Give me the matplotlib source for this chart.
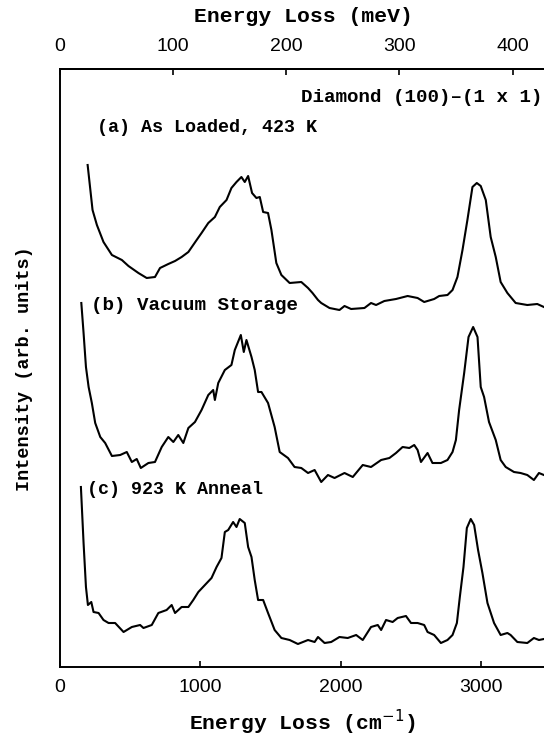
import matplotlib
matplotlib.use("Agg")
import matplotlib.pyplot as plt
import numpy as np

# ---- data (energy loss in cm^-1, intensity in arbitrary units incl. offsets) ----
a_x = [197, 232, 263, 310, 370, 441, 488, 559, 618, 677, 713, 772, 820, 867, 915, 974, 1009, 1057,
       1104, 1139, 1187, 1222, 1258, 1293, 1317, 1341, 1369, 1400, 1424, 1448, 1483, 1507, 1542, 1578,
       1637, 1720, 1768, 1800, 1839, 1862, 1921, 1992, 2028, 2075, 2170, 2217, 2253, 2312, 2395, 2478,
       2549, 2596, 2667, 2703, 2762, 2798, 2833, 2869, 2904, 2940, 2971, 2999, 3035, 3070, 3106, 3141,
       3189, 3248, 3331, 3402, 3449]
a_y = [502, 457, 442, 425, 412, 407, 401, 394, 389, 390, 399, 403, 406, 410, 415, 427, 434, 444,
       450, 460, 467, 479, 485, 490, 485, 491, 474, 469, 470, 455, 454, 437, 404, 392,
       384, 385, 379, 374, 367, 364, 359, 357, 361, 358, 359, 364, 362, 366, 368, 371,
       369, 365, 368, 371, 372, 377, 390, 417, 447, 480, 484, 481, 467, 430, 410, 385,
       374, 364, 362, 363, 360]

b_x = [152, 168, 185, 204, 227, 251, 287, 322, 370, 429, 476, 512, 547, 576, 630, 677, 725, 772,
       808, 843, 879, 915, 962, 1009, 1057, 1092, 1104, 1128, 1175, 1222, 1246, 1289, 1310, 1329,
       1365, 1388, 1412, 1436, 1483, 1530, 1566, 1625, 1672, 1720, 1768, 1815, 1862, 1910, 1957,
       2028, 2087, 2158, 2217, 2289, 2348, 2395, 2442, 2490, 2525, 2549, 2573, 2620, 2655, 2715,
       2762, 2798, 2822, 2845, 2881, 2912, 2945, 2976, 2999, 3023, 3058, 3106, 3141, 3177, 3236,
       3283, 3331, 3378, 3414, 3449]
b_y = [364, 334, 300, 280, 264, 244, 230, 224, 211, 212, 215, 205, 208, 199, 204, 205, 220, 230,
       225, 232, 224, 239, 245, 257, 272, 277, 267, 284, 297, 302, 317, 332, 315, 327,
       310, 297, 275, 275, 264, 240, 215, 209, 200, 199, 194, 197, 185, 192, 189,
       194, 190, 202, 200, 207, 209, 214, 220, 219, 222, 217, 205, 214, 204, 204,
       207, 215, 227, 257, 294, 330, 340, 330, 280, 270, 245, 227, 207, 200, 195,
       194, 192, 187, 194, 192]

c_x = [149, 168, 185, 199, 223, 239, 275, 310, 346, 393, 453, 512, 571, 595, 654, 701, 760, 796,
       820, 867, 915, 950, 986, 1033, 1080, 1116, 1151, 1175, 1199, 1234, 1258, 1281, 1317, 1341,
       1365, 1388, 1412, 1448, 1483, 1530, 1578, 1637, 1696, 1768, 1815, 1839, 1886, 1933, 1992,
       2051, 2111, 2158, 2217, 2265, 2289, 2324, 2371, 2407, 2466, 2502, 2549, 2596, 2620, 2667,
       2715, 2762, 2798, 2829, 2850, 2876, 2900, 2928, 2952, 2980, 3011, 3047, 3094, 3141, 3189,
       3212, 3260, 3331, 3378, 3414, 3449]
c_y = [180, 124, 80, 62, 65, 55, 54, 47, 44, 44, 35, 40, 42, 39, 42, 54, 57, 62,
       54, 60, 60, 67, 75, 82, 89, 100, 109, 135, 137, 145, 140, 148, 144, 120,
       110, 87, 67, 67, 54, 37, 29, 27, 23, 27, 25, 30, 24, 25, 30,
       29, 32, 27, 40, 42, 37, 47, 45, 49, 51, 44, 44, 42, 35, 32,
       24, 27, 32, 44, 70, 100, 139, 148, 142, 117, 94, 64, 44, 32, 34,
       32, 25, 24, 29, 27, 28]

labels = ["(a) As Loaded, 423 K", "(b) Vacuum Storage", "(c) 923 K Anneal"]
title_text = "Diamond (100)\u2013(1 x 1)"
bottom_ticks = [0, 1000, 2000, 3000]
top_ticks = [0, 100, 200, 300, 400]
CM_PER_MEV = 8.0655

W, H = 544, 737
fig = plt.figure(figsize=(W / 100, H / 100), dpi=100)
left_px, right_px, top_px, bot_px = 60, 544, 69, 667
ax = fig.add_axes([left_px / W, 1 - bot_px / H, (right_px - left_px) / W, (bot_px - top_px) / H])

for xs, ys in [(a_x, a_y), (b_x, b_y), (c_x, c_y)]:
    ax.plot(xs, ys, color="black", lw=1.5)

ax.set_xlim(0, 3450)
ax.set_ylim(0, 598)
ax.spines["right"].set_visible(False)
for s in ["left", "top", "bottom"]:
    ax.spines[s].set_linewidth(1.4)
ax.set_yticks([])
ax.set_xticks(bottom_ticks)
ax.tick_params(axis="x", direction="in", length=4, width=1.2, pad=9, labelsize=14)
for t in ax.get_xticklabels():
    t.set_family("Liberation Sans")

sec = ax.secondary_xaxis("top", functions=(lambda v: v / CM_PER_MEV, lambda v: v * CM_PER_MEV))
sec.set_xticks(top_ticks)
sec.tick_params(axis="x", direction="in", length=4, width=1.2, pad=10, labelsize=14)
for t in sec.get_xticklabels():
    t.set_family("Liberation Sans")
sec.spines["top"].set_linewidth(1.4)

mono = "Liberation Mono"
wt = "bold"
# annotations inside plot
ax.text(3440, 570, title_text, ha="right", va="center", fontsize=13.8, family=mono, weight=wt)
ax.text(263, 539, labels[0], ha="left", va="center", fontsize=13.2, family=mono, weight=wt)
ax.text(220, 362, labels[1], ha="left", va="center", fontsize=13.8, family=mono, weight=wt)
ax.text(192, 177, labels[2], ha="left", va="center", fontsize=13.2, family=mono, weight=wt)

fig.text(303 / W, 1 - 16 / H, "Energy Loss (meV)", ha="center", va="center", fontsize=15.4,
         family=mono, weight=wt)
fig.text(302 / W, 1 - 722 / H, "Energy Loss (cm$^{-1}$)", ha="center", va="center", fontsize=15.4,
         family=mono, weight=wt)
fig.text(25 / W, 1 - 369 / H, "Intensity (arb. units)", ha="center", va="center", rotation=90,
         fontsize=13.3, family=mono, weight=wt)

fig.savefig("out.png", dpi=100)
